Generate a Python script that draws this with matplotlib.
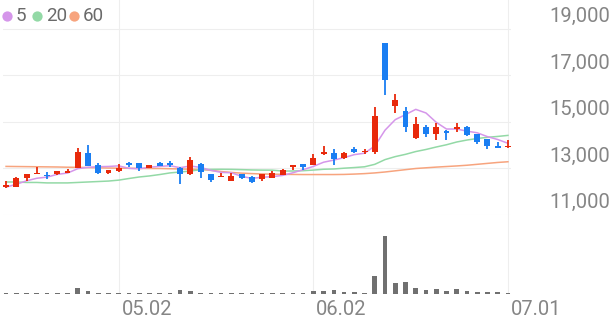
import matplotlib
matplotlib.use('Agg')
import matplotlib.pyplot as plt
import matplotlib.transforms as mtransforms
from matplotlib.lines import Line2D
import numpy as np
import pandas as pd

# daily candles (open, high, low, close)
opens = [12200, 12220, 12590, 12770, 12740, 12750, 12820, 13010, 13650, 13150,
         12820, 12890, 13220, 13220, 13010, 13220, 13220, 13040, 12750, 13180,
         12750, 12640, 12480, 12760, 12650, 12540, 12610, 12740, 13080, 13190,
         13150, 13610, 13680, 13440, 13840, 13700, 13720, 18390, 15690, 15470,
         14300, 14800, 14480, 14630, 14700, 14800, 14480, 14270, 13980, 13910]
highs = [12460, 12620, 12770, 13050, 12860, 12890, 12960, 13870, 14010, 13220,
         12950, 13190, 13290, 13240, 13170, 13280, 13320, 13060, 13510, 13220,
         12760, 12820, 12790, 12780, 12670, 12760, 12900, 12990, 13160, 13200,
         13620, 13980, 13840, 13700, 13940, 13840, 15630, 18400, 16190, 15660,
         15230, 14870, 14970, 14650, 14940, 14820, 14500, 14290, 14150, 14230]
lows = [12160, 12200, 12480, 12760, 12560, 12740, 12810, 13000, 13100, 12780,
        12750, 12840, 13080, 12910, 13000, 13100, 13060, 12320, 12740, 12580,
        12430, 12630, 12470, 12560, 12360, 12460, 12590, 12730, 12935, 12935,
        13140, 13600, 13150, 13420, 13650, 13620, 13620, 16160, 15370, 14580,
        14290, 14370, 14230, 14230, 14580, 14410, 14050, 13840, 13890, 13900]
closes = [12290, 12600, 12760, 12820, 12680, 12880, 12880, 13700, 13110, 12820,
          12930, 13010, 13160, 13010, 13160, 13120, 13140, 12750, 13370, 12840,
          12510, 12690, 12680, 12580, 12420, 12750, 12820, 12940, 13150, 13080,
          13460, 13720, 13400, 13680, 13720, 13770, 15260, 16810, 15950, 14800,
          14900, 14480, 14800, 14510, 14800, 14440, 14130, 13970, 13900, 13980]
volumes = [50000, 50000, 50000, 50000, 50000, 50000, 50000, 300000, 175000, 75000,
           50000, 50000, 50000, 50000, 50000, 50000, 75000, 200000, 150000, 75000,
           50000, 50000, 50000, 50000, 50000, 50000, 50000, 50000, 50000, 50000,
           165000, 135000, 200000, 100000, 100000, 75000, 900000, 2900000, 535000, 585000,
           300000, 215000, 250000, 135000, 250000, 135000, 100000, 100000, 100000, 50000]

# moving-average values before enough days are in view
ma5_head = [12200, 12320, 12470, 12580]
ma20_head = [12420, 12420, 12400, 12400, 12380, 12380, 12380, 12400, 12420, 12440,
             12460, 12500, 12570, 12635, 12680, 12740, 12810, 12850, 12890]
ma60 = [13090, 13085, 13080, 13075, 13070, 13065, 13055, 13050, 13040, 13030,
        13020, 13015, 13010, 13005, 13000, 13000, 12990, 12980, 12970, 12960,
        12920, 12870, 12830, 12800, 12780, 12765, 12755, 12750, 12745, 12740,
        12740, 12740, 12740, 12745, 12760, 12780, 12810, 12850, 12900, 12950,
        13000, 13030, 13060, 13085, 13110, 13140, 13180, 13220, 13260, 13290]

date_ticks = [11, 30, 49]
date_labels = ['05.02', '06.02', '07.01']
price_ticks = [11000, 13000, 15000, 17000, 19000]

RED = '#e8290b'
BLUE = '#1a7ef2'
C5, C20, C60 = '#d596ea', '#93d9a6', '#f7a47e'
GRID = '#eeeeee'
TXT = '#858585'

cs = pd.Series(closes)
ma5 = cs.rolling(5).mean().values
ma5[:4] = ma5_head
ma20 = cs.rolling(20).mean().values
ma20[:19] = ma20_head

W, H = 616, 321
fig = plt.figure(figsize=(W / 100, H / 100), dpi=100)
plt.rcParams['font.family'] = ['Roboto', 'DejaVu Sans']

left = 3 / W
width = (511 - 3) / W
ax = fig.add_axes([left, (H - 215) / H, width, 215 / H])
axv = fig.add_axes([left, (H - 294) / H, width, 79 / H])

n = len(closes)
x = np.arange(n)
xlim = (-0.3, 49.3)

for a in (ax, axv):
    a.set_xlim(*xlim)
    for s in a.spines.values():
        s.set_visible(False)
    a.set_xticks([])
    a.set_yticks([])
    for t in date_ticks:
        a.axvline(t, color=GRID, lw=0.8, zorder=0)

ax.set_ylim(11000, 19000 + 29 * 43.01)
for p in price_ticks:
    ax.axhline(p, color=GRID, lw=0.8, zorder=0)

# moving averages
ax.plot(x, ma60, color=C60, lw=1.1, zorder=1)
ax.plot(x, ma20, color=C20, lw=1.1, zorder=1)
ax.plot(x, ma5, color=C5, lw=1.1, zorder=1)

# candles
o = np.array(opens)
c = np.array(closes)
colors = [RED if cc >= oo else BLUE for oo, cc in zip(o, c)]
ax.vlines(x, lows, highs, colors=colors, lw=1.3, zorder=2)
body_h = np.maximum(np.abs(c - o), 40)
ax.bar(x, body_h, bottom=np.minimum(o, c), width=0.58, color=colors, zorder=3)

# volume
axv.bar(x, volumes, width=0.45, color='#707070', zorder=2)
axv.set_ylim(0, max(volumes) * 79 / 58)
axv.axhline(0, color='#e6e6e6', lw=0.8, zorder=1)

# price labels on the right, sitting above their grid lines
tr = mtransforms.blended_transform_factory(fig.transFigure, ax.transData)
tr = mtransforms.offset_copy(tr, fig=fig, x=0, y=7, units='dots')
for p in price_ticks:
    ax.text(610 / W, p, f'{p:,}', transform=tr, ha='right', va='baseline',
            fontsize=14.5, color=TXT, clip_on=False)

# date labels
trx = mtransforms.blended_transform_factory(axv.transData, fig.transFigure)
trx = mtransforms.offset_copy(trx, fig=fig, x=3, y=0, units='dots')
for t, lab in zip(date_ticks, date_labels):
    axv.text(t, 6 / H, lab, transform=trx, ha='left', va='baseline',
             fontsize=14.5, color=TXT, clip_on=False)

# legend
legend_items = [(6.5, 16, C5, '5'), (37, 46, C20, '20'), (74, 83, C60, '60')]
for cx, tx, col, lab in legend_items:
    fig.add_artist(Line2D([cx / W], [1 - 16 / H], marker='o', ms=7.4, color=col,
                          mec='none', transform=fig.transFigure))
    fig.text(tx / W, 1 - 16 / H, lab, ha='left', va='center',
             fontsize=13.5, color='#6a6a6a')

fig.savefig('out.png', dpi=100)
